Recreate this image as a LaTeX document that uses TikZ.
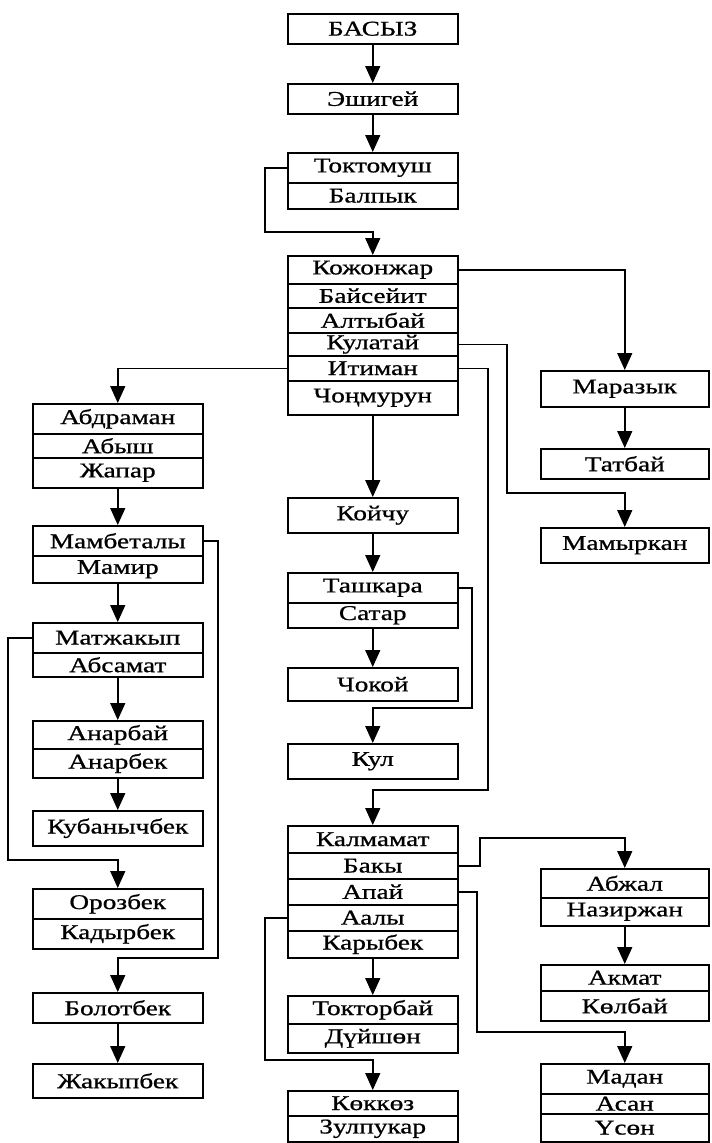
\documentclass[tikz,border=0pt]{standalone}
\usepackage{fontspec}
\setmainfont{Liberation Serif}[FakeStretch=1.3,FakeBold=0.8]
\usetikzlibrary{arrows.meta}

\begin{document}
\begin{tikzpicture}[x=1pt,y=-1pt,>={Triangle[length=17pt,width=15pt]},line width=1.5pt,
  font=\fontsize{21}{22}\selectfont,
  row/.style={draw,anchor=north west,inner sep=0pt,minimum width=170pt},
  rrow/.style={row,minimum width=168pt}]
\useasboundingbox[fill=white] (0,0) rectangle (712,1143);
% centre column
\node[row,minimum height=30pt] (bas) at (287,13) {БАСЫЗ};
\node[row,minimum height=30pt] (esh) at (287,83) {Эшигей};
\node[row,minimum height=30pt] (tok) at (287,152) {Токтомуш};
\node[row,minimum height=26pt] (bal) at (287,182) {Балпык};
\node[row,minimum height=28pt] (kozh) at (287,255) {Кожонжар};
\node[row,minimum height=24pt] (bais) at (287,283) {Байсейит};
\node[row,minimum height=25pt] (alty) at (287,307) {Алтыбай};
\node[row,minimum height=23pt] (kula) at (287,332) {Кулатай};
\node[row,minimum height=25pt] (itim) at (287,355) {Итиман};
\node[row,minimum height=34pt] (chon) at (287,380) {Чоңмурун};
\node[row,minimum height=35pt] (koich) at (287,497) {Койчу};
\node[row,minimum height=30pt] (tash) at (287,572) {Ташкара};
\node[row,minimum height=25pt] (satar) at (287,602) {Сатар};
\node[row,minimum height=33pt] (chok) at (287,667) {Чокой};
\node[row,minimum height=35pt] (kul) at (287,743) {Кул};
\node[row,minimum height=27pt] (kalm) at (287,825) {Калмамат};
\node[row,minimum height=26pt] (baky) at (287,852) {Бакы};
\node[row,minimum height=26pt] (apai) at (287,878) {Апай};
\node[row,minimum height=26pt] (aaly) at (287,904) {Аалы};
\node[row,minimum height=27pt] (kary) at (287,930) {Карыбек};
\node[row,minimum height=28pt] (tokt) at (287,995) {Токторбай};
\node[row,minimum height=29pt] (duish) at (287,1023) {Дүйшөн};
\node[row,minimum height=25pt] (kokk) at (287,1090) {Көккөз};
\node[row,minimum height=26pt] (zulp) at (287,1115) {Зулпукар};
% left column
\node[row,minimum height=30pt] (abdr) at (32,403) {Абдраман};
\node[row,minimum height=24pt] (abysh) at (32,433) {Абыш};
\node[row,minimum height=30pt] (zhap) at (32,457) {Жапар};
\node[row,minimum height=30pt] (mamb) at (32,525) {Мамбеталы};
\node[row,minimum height=27pt] (mamir) at (32,555) {Мамир};
\node[row,minimum height=30pt] (matzh) at (32,622) {Матжакып};
\node[row,minimum height=24pt] (absam) at (32,652) {Абсамат};
\node[row,minimum height=28pt] (anarb) at (32,720) {Анарбай};
\node[row,minimum height=29pt] (anarbek) at (32,748) {Анарбек};
\node[row,minimum height=35pt] (kuban) at (32,810) {Кубанычбек};
\node[row,minimum height=30pt] (oroz) at (32,888) {Орозбек};
\node[row,minimum height=30pt] (kadyr) at (32,918) {Кадырбек};
\node[row,minimum height=30pt] (bolot) at (32,992) {Болотбек};
\node[row,minimum height=34pt] (zhak) at (32,1063) {Жакыпбек};
% right column
\node[rrow,minimum height=36pt] (maraz) at (540,370) {Маразык};
\node[rrow,minimum height=30pt] (tatb) at (540,448) {Татбай};
\node[rrow,minimum height=35pt] (mamyr) at (540,527) {Мамыркан};
\node[rrow,minimum height=29pt] (abzh) at (540,868) {Абжал};
\node[rrow,minimum height=28pt] (nazir) at (540,897) {Назиржан};
\node[rrow,minimum height=26pt] (akmat) at (540,964) {Акмат};
\node[rrow,minimum height=30pt] (kolb) at (540,990) {Көлбай};
\node[rrow,minimum height=30pt] (madan) at (540,1063) {Мадан};
\node[rrow,minimum height=20pt] (asan) at (540,1093) {Асан};
\node[rrow,minimum height=28pt] (usen) at (540,1113) {Үсөн};
% connectors
\draw[->] (bas.south) -- (esh.north);
\draw[->] (esh.south) -- (tok.north);
\draw[->] (tok.west) -| (265,232) -| (kozh.north);
\draw[->] (kozh.east) -| (maraz.north);
\draw[->] (maraz.south) -- (tatb.north);
\draw[->] (kula.east) -| (507,493) -| (mamyr.north);
\draw[->] (itim.east) -| (488,790) -| (kalm.north);
\draw[->] (itim.west) -| (abdr.north);
\draw[->] (chon.south) -- (koich.north);
\draw[->] (koich.south) -- (tash.north);
\draw[->] (tash.east) -| (472,708) -| (kul.north);
\draw[->] (satar.south) -- (chok.north);
\draw[->] (zhap.south) -- (mamb.north);
\draw[->] (mamb.east) -| (218,958) -| (bolot.north);
\draw[->] (mamir.south) -- (matzh.north);
\draw[->] (matzh.west) -| (8,860) -| (oroz.north);
\draw[->] (absam.south) -- (anarb.north);
\draw[->] (anarbek.south) -- (kuban.north);
\draw[->] (bolot.south) -- (zhak.north);
\draw[->] (baky.east) -| (480,838) -| (abzh.north);
\draw[->] (nazir.south) -- (akmat.north);
\draw[->] (apai.east) -| (477,1032) -| (madan.north);
\draw[->] (aaly.west) -| (265,1060) -| (kokk.north);
\draw[->] (kary.south) -- (tokt.north);
\end{tikzpicture}
\end{document}
